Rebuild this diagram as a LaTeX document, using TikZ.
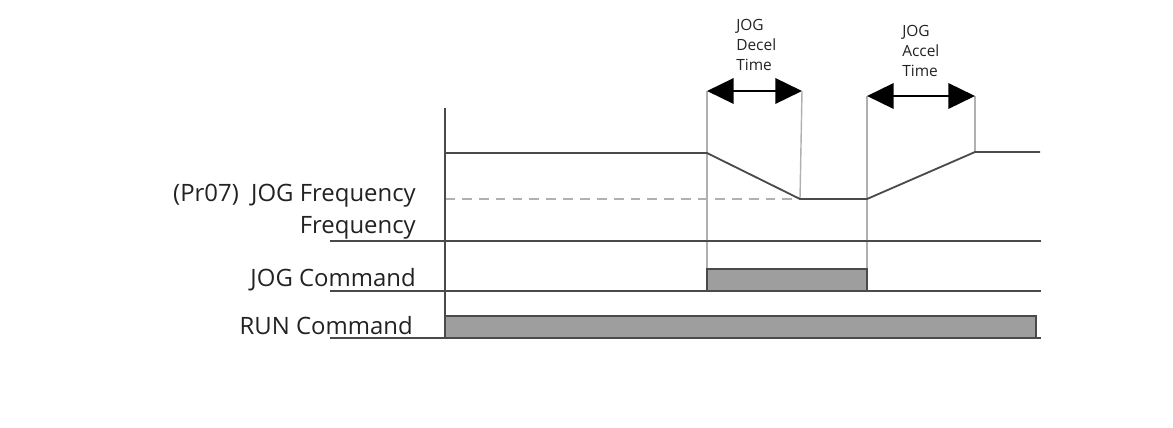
\documentclass[tikz,border=0pt]{standalone}
\usepackage{fontspec}
\setmainfont{Open Sans}
\definecolor{jgline}{HTML}{4A4A4A}
\definecolor{jgguide}{HTML}{B0B0B0}
\definecolor{jgfill}{HTML}{9E9E9E}
\definecolor{jgtext}{HTML}{222222}
\usepackage{tikz}
\usetikzlibrary{arrows.meta, positioning}

\begin{document}
\begin{tikzpicture}[x=0.025cm, y=-0.025cm,
    sigline/.style={draw=jgline, line width=1.3pt},
    guide/.style={draw=jgguide, line width=1pt},
    pulse/.style={fill=jgfill, draw=jgline, line width=1.1pt},
    rowlabel/.style={anchor=base east, inner sep=0pt, text=jgtext, font=\fontsize{17}{19}\selectfont},
    timelabel/.style={anchor=north west, inner sep=0pt, align=left, text=jgtext, font=\fontsize{11}{14.2}\selectfont},
    spanarrow/.style={{Triangle[length=19pt,width=18pt]}-{Triangle[length=19pt,width=18pt]}, line width=2pt, black},
  ]
    \useasboundingbox (0,0) rectangle (1173,428);
    % frequency curve
    \coordinate (f0) at (445,153);
    \coordinate (f1) at (707,153);
    \coordinate (f2) at (800,199);
    \coordinate (f3) at (867,199);
    \coordinate (f4) at (975,152);
    \coordinate (f5) at (1040,152);
    \coordinate (jogf) at (445,199);
    % guide tops and arrow ends
    \coordinate (dl) at (707,91);
    \coordinate (dr) at (802,91);
    \coordinate (al) at (867,96);
    \coordinate (ar) at (975,96);
    % row baselines
    \coordinate (frqL) at (330,241);
    \coordinate (frqR) at (1041,241);
    \coordinate (jogL) at (330,291);
    \coordinate (jogR) at (1041,291);
    \coordinate (runL) at (330,338);
    \coordinate (runR) at (1041,338);
    \coordinate (axtop) at (445,108);
    \coordinate (axbot) at (445,338);

    \draw[guide] (dl) -- (f1 |- jogL);
    \draw[guide] (dr) -- (f2);
    \draw[guide] (al) -- (f3 |- jogL);
    \draw[guide] (ar) -- (f4);
    \draw[jgguide, line width=1.1pt, dash pattern=on 7pt off 5pt] (jogf) -- (f2);

    \draw[pulse] (707,269) rectangle (867,291);
    \draw[pulse] (445,316) rectangle (1036,338);

    \draw[sigline] (axtop) -- (axbot);
    \draw[sigline] (f0) -- (f1) -- (f2) -- (f3) -- (f4) -- (f5);
    \draw[sigline] (frqL) -- (frqR);
    \draw[sigline] (jogL) -- (jogR);
    \draw[sigline] (runL) -- (runR);

    \draw[spanarrow] (dl) -- (dr);
    \draw[spanarrow] (al) -- (ar);

    \node[timelabel] (decel) at (736,19) {JOG\\Decel\\Time};
    \node[timelabel] (accel) at (902,25) {JOG\\Accel\\Time};

    \node[rowlabel] (pr07) at (416,201) {(Pr07)\ \ JOG Frequency};
    \node[rowlabel] (frq) at (416,233) {Frequency};
    \node[rowlabel] (jog) at (416,286) {JOG Command};
    \node[rowlabel] (run) at (413,334) {RUN Command};
  \end{tikzpicture}
\end{document}
